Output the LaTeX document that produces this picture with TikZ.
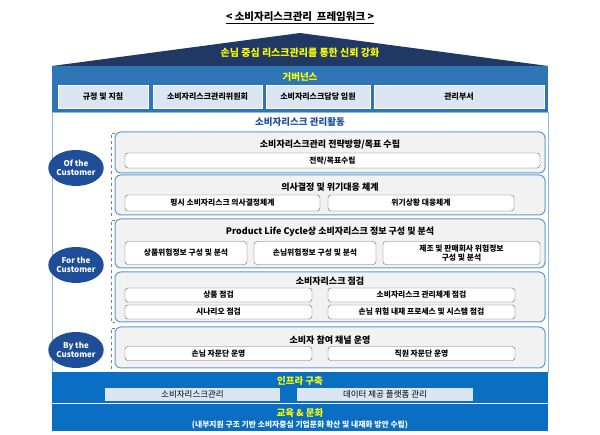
\documentclass[tikz,border=0pt]{standalone}
\usepackage{fontspec}
\setmainfont{Noto Sans CJK KR}
\usetikzlibrary{shapes.geometric}
\definecolor{navy}{HTML}{1F3864}
\definecolor{gblue}{HTML}{2E75B6}
\definecolor{iblue}{HTML}{0A6FC2}
\definecolor{lblue}{HTML}{DCE6F2}
\definecolor{cyel}{HTML}{FFFF00}
\definecolor{cblue}{HTML}{1F4E99}
\definecolor{gbord}{HTML}{5B9BD5}
\tikzset{
 lbox/.style={draw=white,line width=0.8pt,fill=lblue,inner sep=0pt,font=\fontsize{8}{9}\selectfont\bfseries},
 grp/.style={draw=gbord,line width=1pt,fill=black!5,rounded corners=6pt},
 sub/.style={draw=black!60,fill=white,rounded corners=3pt,inner sep=0pt,align=center,font=\fontsize{7.8}{8.6}\selectfont\bfseries},
 gtitle/.style={font=\fontsize{9}{10}\selectfont\bfseries},
 ytitle/.style={text=cyel,font=\fontsize{9.5}{10}\selectfont\bfseries},
 cust/.style={ellipse,fill=cblue,text=white,minimum width=50pt,minimum height=36pt,inner sep=0pt,align=center,font=\fontsize{8}{9}\selectfont\bfseries},
 brk/.style={draw=black!50,dashed,line width=0.5pt}
}
\begin{document}
\begin{tikzpicture}[x=1pt,y=-1pt]
\useasboundingbox (0,0) rectangle (600,435);
\node[font=\fontsize{10.5}{11}\selectfont\bfseries] (title) at (300,18) {\underline{<\ 소비자리스크관리\ \ 프레임워크\ >}};
% roof
\fill[navy] (52,66) -- (300,33) -- (548,66) -- cycle;
\node[ytitle,font=\fontsize{10}{11}\selectfont\bfseries] (roof) at (300,53) {손님 중심 리스크관리를 통한 신뢰 강화};
% governance
\fill[gblue] (52,66) rectangle (548,112);
\node[ytitle] (gov) at (300,77) {거버넌스};
\node[lbox,minimum width=90pt,minimum height=23pt] (g1) at (103,96.5) {규정 및 지침};
\node[lbox,minimum width=109pt,minimum height=23pt] (g2) at (207.5,96.5) {소비자리스크관리위원회};
\node[lbox,minimum width=104pt,minimum height=23pt] (g3) at (318,96.5) {소비자리스크담당 임원};
\node[lbox,minimum width=170pt,minimum height=23pt] (g4) at (459,96.5) {관리부서};
% activity area
\draw[gbord!70,fill=white] (52,112) rectangle (548,372);
\node[text=cblue,font=\fontsize{9.5}{10}\selectfont\bfseries\itshape] (act) at (300,122) {소비자리스크 관리활동};
% brackets
\draw[brk] (115,133) -- (111,133) -- (111,215) -- (115,215);
\draw[brk] (115,220) -- (111,220) -- (111,322) -- (115,322);
\draw[brk] (115,328) -- (111,328) -- (111,368) -- (115,368);
\node[cust] (c1) at (76,168) {Of the\\Customer};
\node[cust] (c2) at (76,265) {For the\\Customer};
\node[cust] (c3) at (76,350) {By the\\Customer};
% groups
\draw[grp] (115,132) rectangle (545,173);
\node[gtitle] (t1) at (330,145) {소비자리스크관리 전략방향/목표 수립};
\node[sub,minimum width=415pt,minimum height=15pt] (s11) at (332.5,160.5) {전략/목표수립};
\draw[grp] (115,175) rectangle (545,215);
\node[gtitle] (t2) at (330,187) {의사결정 및 위기대응 체계};
\node[sub,minimum width=195pt,minimum height=16pt] (s21) at (222.5,203) {평시 소비자리스크 의사결정체계};
\node[sub,minimum width=186pt,minimum height=16pt] (s22) at (421,203) {위기상황 대응체계};
\draw[grp] (115,219) rectangle (545,268);
\node[gtitle] (t3) at (330,232) {Product Life Cycle상 소비자리스크 정보 구성 및 분석};
\node[sub,minimum width=122pt,minimum height=23pt] (s31) at (186,253) {상품위험정보 구성 및 분석};
\node[sub,minimum width=122pt,minimum height=23pt] (s32) at (315,253) {손님위험정보 구성 및 분석};
\node[sub,minimum width=157pt,minimum height=23pt] (s33) at (461.5,253) {제조 및 판매회사 위험정보\\구성 및 분석};
\draw[grp] (115,272) rectangle (545,322);
\node[gtitle] (t4) at (330,281) {소비자리스크 점검};
\node[sub,minimum width=187pt,minimum height=14pt] (s41) at (218.5,295) {상품 점검};
\node[sub,minimum width=187pt,minimum height=14pt] (s42) at (421.5,295) {소비자리스크 관리체계 점검};
\node[sub,minimum width=187pt,minimum height=14pt] (s43) at (218.5,312) {시나리오 점검};
\node[sub,minimum width=187pt,minimum height=14pt] (s44) at (421.5,312) {손님 위험 내재 프로세스 및 시스템 점검};
\draw[grp] (115,327) rectangle (545,368);
\node[gtitle] (t5) at (330,340) {소비자 참여 채널 운영};
\node[sub,minimum width=187pt,minimum height=14pt] (s51) at (218.5,353.5) {손님 자문단 운영};
\node[sub,minimum width=187pt,minimum height=14pt] (s52) at (421.5,353.5) {직원 자문단 운영};
% infra
\fill[iblue] (52,372) rectangle (548,403);
\node[ytitle] (inf) at (300,381) {인프라 구축};
\node[fill=lblue,minimum width=175pt,minimum height=13pt,inner sep=0pt,font=\fontsize{8.5}{9}\selectfont] (i1) at (192.5,394.5) {소비자리스크관리};
\node[fill=lblue,minimum width=176pt,minimum height=13pt,inner sep=0pt,font=\fontsize{8.5}{9}\selectfont] (i2) at (385,394.5) {데이터 제공 플랫폼 관리};
% education
\fill[iblue] (52,404) rectangle (548,431);
\draw[white,line width=1pt] (52,403.5) -- (548,403.5);
\node[ytitle] (edu) at (300,413) {교육 \& 문화};
\node[text=white,font=\fontsize{7.8}{8.6}\selectfont\bfseries] (edu2) at (300,425) {(내부지원 구조 기반 소비자중심 기업문화 확산 및 내재화 방안 수립)};
\end{tikzpicture}
\end{document}
